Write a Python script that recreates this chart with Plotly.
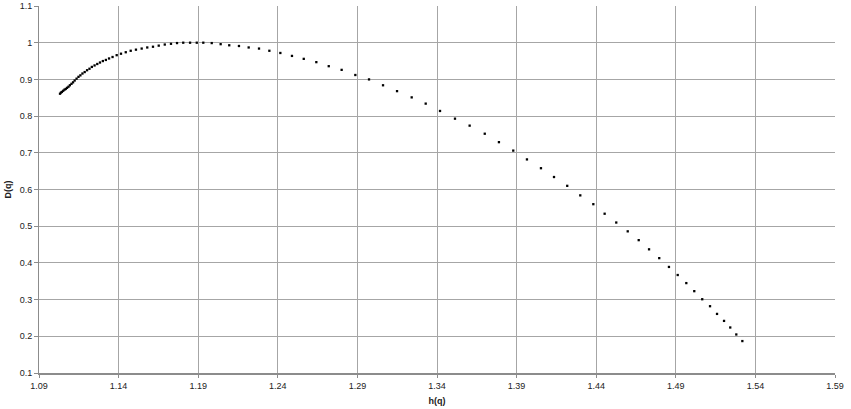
import plotly.graph_objects as go

# multifractal spectrum, values
h_q = [1.1032, 1.1038, 1.1044, 1.1052, 1.1060, 1.1068, 1.1076, 1.1085, 1.1094, 1.1104,
       1.1114, 1.1124, 1.1136, 1.1148, 1.1160, 1.1173, 1.1187, 1.1202, 1.1217, 1.1232,
       1.1249, 1.1266, 1.1283, 1.1301, 1.1320, 1.1340, 1.1362, 1.1388, 1.1415, 1.1445,
       1.1476, 1.1509, 1.1545, 1.1580, 1.1616, 1.1652, 1.1690, 1.1729, 1.1767, 1.1806,
       1.1849, 1.1891, 1.1932, 1.1985, 1.2041, 1.2095, 1.2156, 1.2217, 1.2282, 1.2347,
       1.2416, 1.2489, 1.2563, 1.2642, 1.2720, 1.2801, 1.2887, 1.2973, 1.3061, 1.3149,
       1.3241, 1.3329, 1.3419, 1.3513, 1.3605, 1.3700, 1.3789, 1.3879, 1.3965, 1.4053,
       1.4135, 1.4218, 1.4300, 1.4382, 1.4453, 1.4526, 1.4598, 1.4667, 1.4732, 1.4796,
       1.4857, 1.4912, 1.4966, 1.5016, 1.5066, 1.5115, 1.5159, 1.5203, 1.5242, 1.5280,
       1.5318]
D_q = [0.861, 0.864, 0.866, 0.869, 0.872, 0.874, 0.877, 0.880, 0.884, 0.888,
       0.892, 0.897, 0.902, 0.907, 0.911, 0.916, 0.920, 0.925, 0.929, 0.934,
       0.938, 0.942, 0.946, 0.950, 0.953, 0.957, 0.961, 0.966, 0.970, 0.974,
       0.978, 0.981, 0.984, 0.987, 0.989, 0.992, 0.995, 0.997, 0.999, 1.000,
       1.000, 1.000, 1.000, 0.999, 0.996, 0.993, 0.991, 0.987, 0.984, 0.978,
       0.972, 0.964, 0.956, 0.947, 0.936, 0.926, 0.912, 0.900, 0.884, 0.868,
       0.851, 0.834, 0.814, 0.793, 0.774, 0.752, 0.729, 0.706, 0.682, 0.658,
       0.634, 0.610, 0.584, 0.560, 0.534, 0.510, 0.486, 0.462, 0.437, 0.413,
       0.389, 0.367, 0.345, 0.323, 0.301, 0.282, 0.261, 0.242, 0.224, 0.205,
       0.187]

x_ticks = [1.09, 1.14, 1.19, 1.24, 1.29, 1.34, 1.39, 1.44, 1.49, 1.54, 1.59]
y_ticks = [0.1, 0.2, 0.3, 0.4, 0.5, 0.6, 0.7, 0.8, 0.9, 1.0, 1.1]

font = "Liberation Sans Narrow, Liberation Sans, Arial"

fig = go.Figure(go.Scatter(x=h_q, y=D_q, mode='markers',
                           marker=dict(symbol='square', size=2.3, color='black',
                                       line=dict(width=0))))

fig.update_layout(
    width=851, height=409,
    margin=dict(l=39, r=16, t=6, b=36, autoexpand=False),
    plot_bgcolor='white', paper_bgcolor='white',
    showlegend=False,
    font=dict(family=font, size=9, color='#222222'),
)

fig.update_xaxes(range=[1.09, 1.59], tickvals=x_ticks, ticktext=[f"{v:.2f}" for v in x_ticks],
                 showgrid=True, gridcolor='#a6a6a6', gridwidth=1,
                 showline=True, linecolor='#8c8c8c', linewidth=2,
                 ticks='outside', ticklen=3, tickcolor='#8c8c8c',
                 zeroline=False, automargin=False,
                 title=dict(text='<b>h(q)</b>', standoff=8, font=dict(size=9)))
fig.update_yaxes(range=[0.1, 1.1], tickvals=y_ticks, ticktext=[f"{v:g}" for v in y_ticks],
                 showgrid=True, gridcolor='#a6a6a6', gridwidth=1,
                 showline=True, linecolor='#8c8c8c', linewidth=1,
                 ticks='outside', ticklen=4, tickcolor='#8c8c8c',
                 zeroline=False, automargin=False,
                 title=dict(text='<b>D(q)</b>', standoff=6, font=dict(size=9)))

# page body has a default 8px margin; drop it so the chart sits at the window corner
fig.write_html("out.html", config={'displayModeBar': False},
               post_script="document.body.style.margin='0';")
